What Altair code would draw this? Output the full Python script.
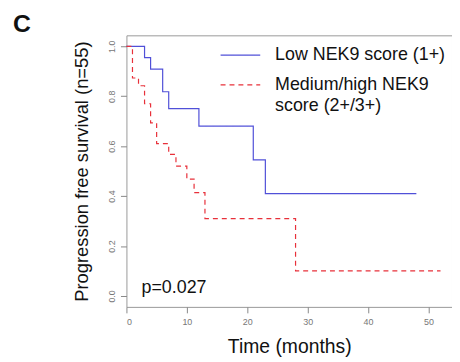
import altair as alt
import pandas as pd

groups = ["Low NEK9 score (1+)", "Medium/high NEK9\nscore (2+/3+)"]
low_t = [0, 3, 4, 6, 7, 12, 21, 23, 48]
low_s = [1.0, 0.955, 0.909, 0.818, 0.75, 0.68, 0.545, 0.41, 0.41]
med_t = [0, 1, 2, 3, 4, 5, 7, 8.2, 10, 11.2, 13, 28, 52]
med_s = [1.0, 0.873, 0.842, 0.77, 0.693, 0.61, 0.567, 0.52, 0.468, 0.414, 0.31, 0.10, 0.10]
x_ticks = [0, 10, 20, 30, 40, 50]
y_ticks = [0.0, 0.2, 0.4, 0.6, 0.8, 1.0]
p_label = ["p=0.027"]
p_x = [2.5]
p_y = [0.01]
panel_label = ["C"]
panel_x = [-18.8]
panel_y = [1.056]

df = pd.concat([
    pd.DataFrame({"t": low_t, "s": low_s, "group": groups[0]}),
    pd.DataFrame({"t": med_t, "s": med_s, "group": groups[1]}),
])
pdf = pd.DataFrame({"x": p_x, "y": p_y, "label": p_label})
cdf = pd.DataFrame({"x": panel_x, "y": panel_y, "label": panel_label})

FONT = "Liberation Sans"
BLUE = "#5050d8"
RED = "#e8303a"

xscale = alt.Scale(domain=[0, 53.9], nice=False, zero=False)
yscale = alt.Scale(domain=[-0.044, 1.044], nice=False, zero=False)

lines = alt.Chart(df).mark_line(interpolate="step-after", strokeWidth=1.2).encode(
    x=alt.X("t:Q", scale=xscale, axis=alt.Axis(
        values=x_ticks, title="Time (months)", titleFontSize=19.5, titleFont=FONT,
        titleFontWeight="normal", titleColor="#111", titleY=46, titleBaseline="alphabetic",
        labelFontSize=9, labelFont=FONT, labelColor="#777", tickColor="#888", tickSize=6,
        labelPadding=5, domain=False, grid=False)),
    y=alt.Y("s:Q", scale=yscale, axis=alt.Axis(
        values=y_ticks, format=".1f", title="Progression free survival (n=55)",
        titleFontSize=18.5, titleFont=FONT, titleFontWeight="normal", titleColor="#111",
        titleX=-39.5, titleY=137, titleAngle=270, titleBaseline="alphabetic", titleAlign="center",
        labelAngle=270, labelFontSize=9, labelFont=FONT, labelColor="#777",
        tickColor="#888", tickSize=6, labelPadding=4, domain=False, grid=False)),
    color=alt.Color("group:N", scale=alt.Scale(domain=groups, range=[BLUE, RED]),
                    legend=alt.Legend(title=None)),
    strokeDash=alt.StrokeDash("group:N", scale=alt.Scale(domain=groups, range=[[1, 0], [5, 4]]),
                              legend=alt.Legend(title=None)),
)

ptext = alt.Chart(pdf).mark_text(align="left", baseline="alphabetic", fontSize=18,
                                 font=FONT, color="#111").encode(
    x=alt.X("x:Q", scale=xscale), y=alt.Y("y:Q", scale=yscale), text="label:N")

ctext = alt.Chart(cdf).mark_text(align="left", baseline="alphabetic", fontSize=25,
                                 fontWeight="bold", font=FONT, color="#111").encode(
    x=alt.X("x:Q", scale=xscale), y=alt.Y("y:Q", scale=yscale), text="label:N")

chart = alt.layer(lines, ptext, ctext).properties(
    width=328.5, height=274,
    autosize=alt.AutoSizeParams(type="none"),
    padding={"left": 119.5, "top": 26, "right": 0, "bottom": 52},
).configure(
    background="white",
    style={"guide-label": {"lineBreak": "\n", "lineHeight": 21}},
).configure_view(stroke="#999", strokeWidth=1).configure_legend(
    orient="none", legendX=94, legendY=-1, symbolType="stroke", symbolSize=1600,
    symbolStrokeWidth=1.3, labelFontSize=18, labelFont=FONT, labelColor="#111",
    labelOffset=14, labelLimit=0, rowPadding=0, labelBaseline="middle",
)

chart.save("out.html", embed_options={"renderer": "svg", "actions": False})
